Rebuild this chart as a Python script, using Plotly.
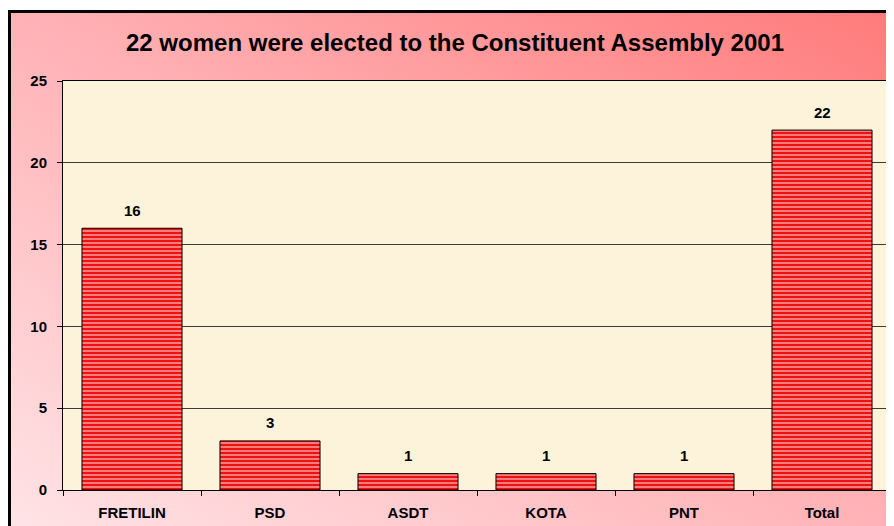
import base64
import plotly.graph_objects as go

categories = ["FRETILIN", "PSD", "ASDT", "KOTA", "PNT", "Total"]
women_elected = [16, 3, 1, 1, 1, 22]
y_ticks = [0, 5, 10, 15, 20, 25]
title_text = "22 women were elected to the Constituent Assembly 2001"

# The page body has an 8px margin, so the figure is drawn 8px in from the
# window corner; all target window pixels below are shifted by OFF.
OFF = 8
W, H = 894 - OFF, 526 - OFF
ml, mr, mt, mb = 63 - OFF, 3, 81 - OFF, 36
pw = W - ml - mr
ph = H - mt - mb


def px2x(px):
    return (px - OFF - ml) / pw


def py2y(py):
    return (H - mb - (py - OFF)) / ph


FONT = "Liberation Sans, Arial, sans-serif"

svg = ('<svg xmlns="http://www.w3.org/2000/svg" width="1000" height="600" '
       'viewBox="0 0 1000 600" preserveAspectRatio="none"><defs>'
       '<linearGradient id="g" x1="0" y1="1" x2="1" y2="0">'
       '<stop offset="0" stop-color="#FFE4E6"/>'
       '<stop offset="0.5" stop-color="#FFB2B6"/>'
       '<stop offset="1" stop-color="#FF7A7A"/>'
       '</linearGradient></defs>'
       '<rect width="1000" height="600" fill="url(#g)"/></svg>')
svg_uri = "data:image/svg+xml;base64," + base64.b64encode(svg.encode()).decode()

fig = go.Figure()
fig.add_trace(go.Bar(
    x=categories,
    y=women_elected,
    marker=dict(
        color="#EE1111",
        line=dict(color="black", width=1),
        pattern=dict(shape="-", fgcolor="white", fillmode="overlay",
                     size=4, solidity=0.45),
    ),
    hoverinfo="x+y",
))

annotations = [
    dict(x=c, y=v, text=str(v), showarrow=False, yshift=18,
         xref="x", yref="y",
         font=dict(family=FONT, size=15, color="black", weight="bold"))
    for c, v in zip(categories, women_elected)
]

shapes = [
    dict(type="rect", xref="paper", yref="paper", x0=0, x1=1, y0=0, y1=1,
         fillcolor="#FDF3DA", line=dict(width=0), layer="below"),
    dict(type="rect", xref="paper", yref="paper",
         x0=px2x(9.5), x1=px2x(1000), y0=py2y(11.5), y1=py2y(600),
         line=dict(color="black", width=3), fillcolor="rgba(0,0,0,0)",
         layer="above"),
]

fig.update_layout(
    width=W, height=H,
    margin=dict(l=ml, r=mr, t=mt, b=mb, pad=0),
    paper_bgcolor="white",
    plot_bgcolor="rgba(0,0,0,0)",
    bargap=0.275,
    showlegend=False,
    title=dict(text=title_text, x=(455 - OFF) / W, xref="container",
               xanchor="center",
               y=1 - (43 - OFF) / H, yref="container", yanchor="middle",
               font=dict(family=FONT, size=24, color="black", weight="bold")),
    images=[dict(source=svg_uri, xref="paper", yref="paper",
                 x=px2x(9), y=py2y(11), sizex=(900 - 9) / pw,
                 sizey=(530 - 11) / ph, xanchor="left", yanchor="top",
                 sizing="stretch", layer="below")],
    shapes=shapes,
    annotations=annotations,
    xaxis=dict(
        showline=True, linecolor="black", linewidth=1, mirror=True,
        ticks="outside", ticklen=5, tickcolor="black", tickson="boundaries",
        showgrid=False, ticklabelstandoff=9,
        tickfont=dict(family=FONT, size=15, color="black", weight="bold"),
    ),
    yaxis=dict(
        range=[0, 25], tickvals=y_ticks,
        showline=True, linecolor="black", linewidth=1, mirror=True,
        ticks="outside", ticklen=5, tickcolor="black",
        showgrid=True, gridcolor="#3a3a3a", gridwidth=1, zeroline=False,
        ticklabelstandoff=7,
        tickfont=dict(family=FONT, size=15, color="black", weight="bold"),
    ),
)

fig.write_html("out.html")
